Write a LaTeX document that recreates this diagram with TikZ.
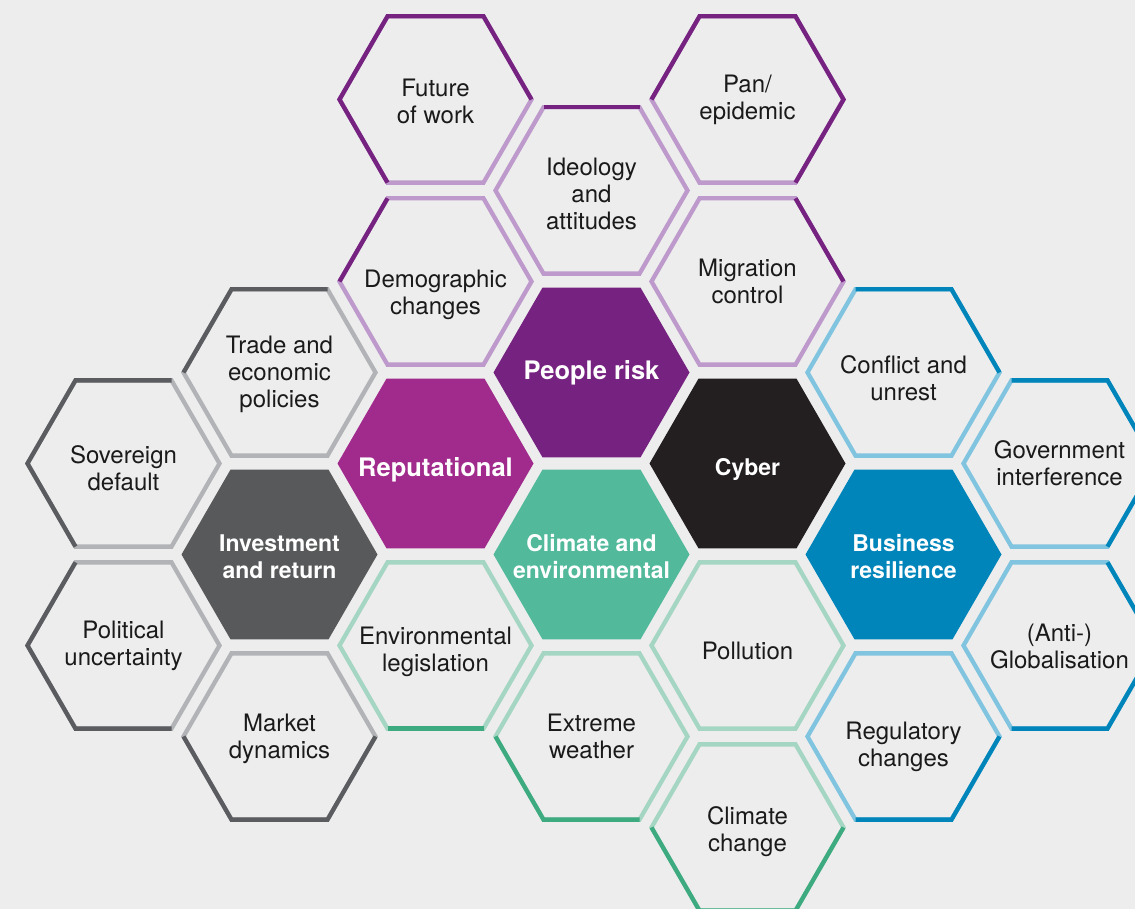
\documentclass[tikz,border=0pt]{standalone}
\usepackage{fontspec}
\setmainfont{TeX Gyre Heros}
\usepackage{tikz}

\definecolor{paper}{HTML}{EDEDED}
\definecolor{ink}{HTML}{1A1A1A}
\definecolor{plumdark}{HTML}{762280}
\definecolor{plumlight}{HTML}{BD9ACB}
\definecolor{reputfill}{HTML}{A02B8C}
\definecolor{slatedark}{HTML}{5A5C60}
\definecolor{slatelight}{HTML}{B1B3B6}
\definecolor{slatefill}{HTML}{58595B}
\definecolor{leafdark}{HTML}{3EAA80}
\definecolor{leaflight}{HTML}{A5D6C3}
\definecolor{leaffill}{HTML}{52B99B}
\definecolor{seadark}{HTML}{0085BA}
\definecolor{sealight}{HTML}{80C4E0}
\definecolor{cyberfill}{HTML}{231F20}

% outlined cell: [text options], name, centre, light colour, text
\newcommand\hexcell[5][]{%
  \coordinate (#2) at (#3);
  \draw[rim, #4, shift={(#2)}] (0:96) -- (60:96) -- (120:96) -- (180:96) -- (240:96) -- (300:96) -- cycle;
  \node[cell, #1] (#2-text) at (#2) {#5};}
% filled cell: [text options], name, centre, fill colour, text
\newcommand\hexcore[5][]{%
  \coordinate (#2) at (#3);
  \fill[#4, shift={(#2)}] (0:98) -- (60:98) -- (120:98) -- (180:98) -- (240:98) -- (300:98) -- cycle;
  \node[core, #1] (#2-text) at (#2) {#5};}
% dark run of sides round a cell: colour, cell, first corner angle, further corners
\newcommand\darkrim[4]{\draw[rim, #1, shift={(#2)}] (#3:96) foreach \a in {#4} { -- (\a:96)};}

\begin{document}
\begin{tikzpicture}[
    x=1pt, y=1pt,
    cell/.style={inner sep=0pt, text=ink, align=center, font=\fontsize{24}{27}\selectfont},
    core/.style={inner sep=0pt, text=white, align=center, font=\bfseries\fontsize{23}{27}\selectfont},
    bigcore/.style={font=\bfseries\fontsize{25.5}{27}\selectfont},
    rim/.style={line width=4.3pt}
]
\useasboundingbox (0,0) rectangle (1135,909);
\clip (0,0) rectangle (1135,909);
\fill[paper] (0,0) rectangle (1135,909);

% people
\hexcell[yshift=-2pt]{fut}{435.5,809.5}{plumlight}{Future\\of work}
\hexcell{pan}{747.5,809.5}{plumlight}{Pan/\\epidemic}
\hexcell[yshift=-3pt]{ideo}{591.5,718.5}{plumlight}{Ideology\\and\\attitudes}
\hexcell[yshift=-13pt]{demo}{435.5,627.5}{plumlight}{Demographic\\changes}
\hexcell{migr}{747.5,627.5}{plumlight}{Migration\\control}
\hexcore[bigcore]{people}{591.5,536.5}{plumdark}{People risk}
\darkrim{plumdark}{fut}{0}{60,120,180,240}
\darkrim{plumdark}{pan}{-60}{0,60,120,180}
\darkrim{plumdark}{ideo}{60}{120}
\darkrim{plumdark}{demo}{120}{180}
\darkrim{plumdark}{migr}{0}{60}

% reputational
\hexcore[bigcore, yshift=-6pt]{reput}{435.5,445.5}{reputfill}{Reputational}

% investment
\hexcell[yshift=-2pt]{trade}{279.5,536.5}{slatelight}{Trade and\\economic\\policies}
\hexcell[yshift=-5pt]{sov}{123.5,445.5}{slatelight}{Sovereign\\default}
\hexcell{polit}{123.5,263.5}{slatelight}{Political\\uncertainty}
\hexcell[yshift=-2pt]{market}{279.5,172.5}{slatelight}{Market\\dynamics}
\hexcore[yshift=-2pt]{invest}{279.5,354.5}{slatefill}{Investment\\and return}
\darkrim{slatedark}{trade}{60}{120,180}
\darkrim{slatedark}{sov}{60}{120,180,240}
\darkrim{slatedark}{polit}{120}{180,240,300}
\darkrim{slatedark}{market}{180}{240,300,360}

% climate
\hexcell[yshift=-6pt]{envleg}{435.5,263.5}{leaflight}{Environmental\\legislation}
\hexcell[yshift=-5pt]{pollution}{747.5,263.5}{leaflight}{Pollution}
\hexcell{weather}{591.5,172.5}{leaflight}{Extreme\\weather}
\hexcell[yshift=-4pt]{change}{747.5,81.5}{leaflight}{Climate\\change}
\hexcore[yshift=-2pt]{climate}{591.5,354.5}{leaffill}{Climate and\\environmental}
\darkrim{leafdark}{envleg}{240}{300}
\darkrim{leafdark}{weather}{180}{240,300}
\darkrim{leafdark}{change}{180}{240,300,360}

% cyber
\hexcore[yshift=-6pt]{cyber}{747.5,445.5}{cyberfill}{Cyber}

% business
\hexcell[yshift=-6pt]{conflict}{903.5,536.5}{sealight}{Conflict and\\unrest}
\hexcell{gov}{1059.5,445.5}{sealight}{Government\\interference}
\hexcell[yshift=-1pt]{antiglob}{1059.5,263.5}{sealight}{(Anti-)\\Globalisation}
\hexcell[yshift=-10pt]{regul}{903.5,172.5}{sealight}{Regulatory\\changes}
\hexcore[yshift=-2pt]{business}{903.5,354.5}{seadark}{Business\\resilience}
\darkrim{seadark}{conflict}{0}{60,120}
\darkrim{seadark}{gov}{-60}{0,60,120}
\darkrim{seadark}{antiglob}{240}{300,360,420}
\darkrim{seadark}{regul}{240}{300,360}
\end{tikzpicture}
\end{document}
